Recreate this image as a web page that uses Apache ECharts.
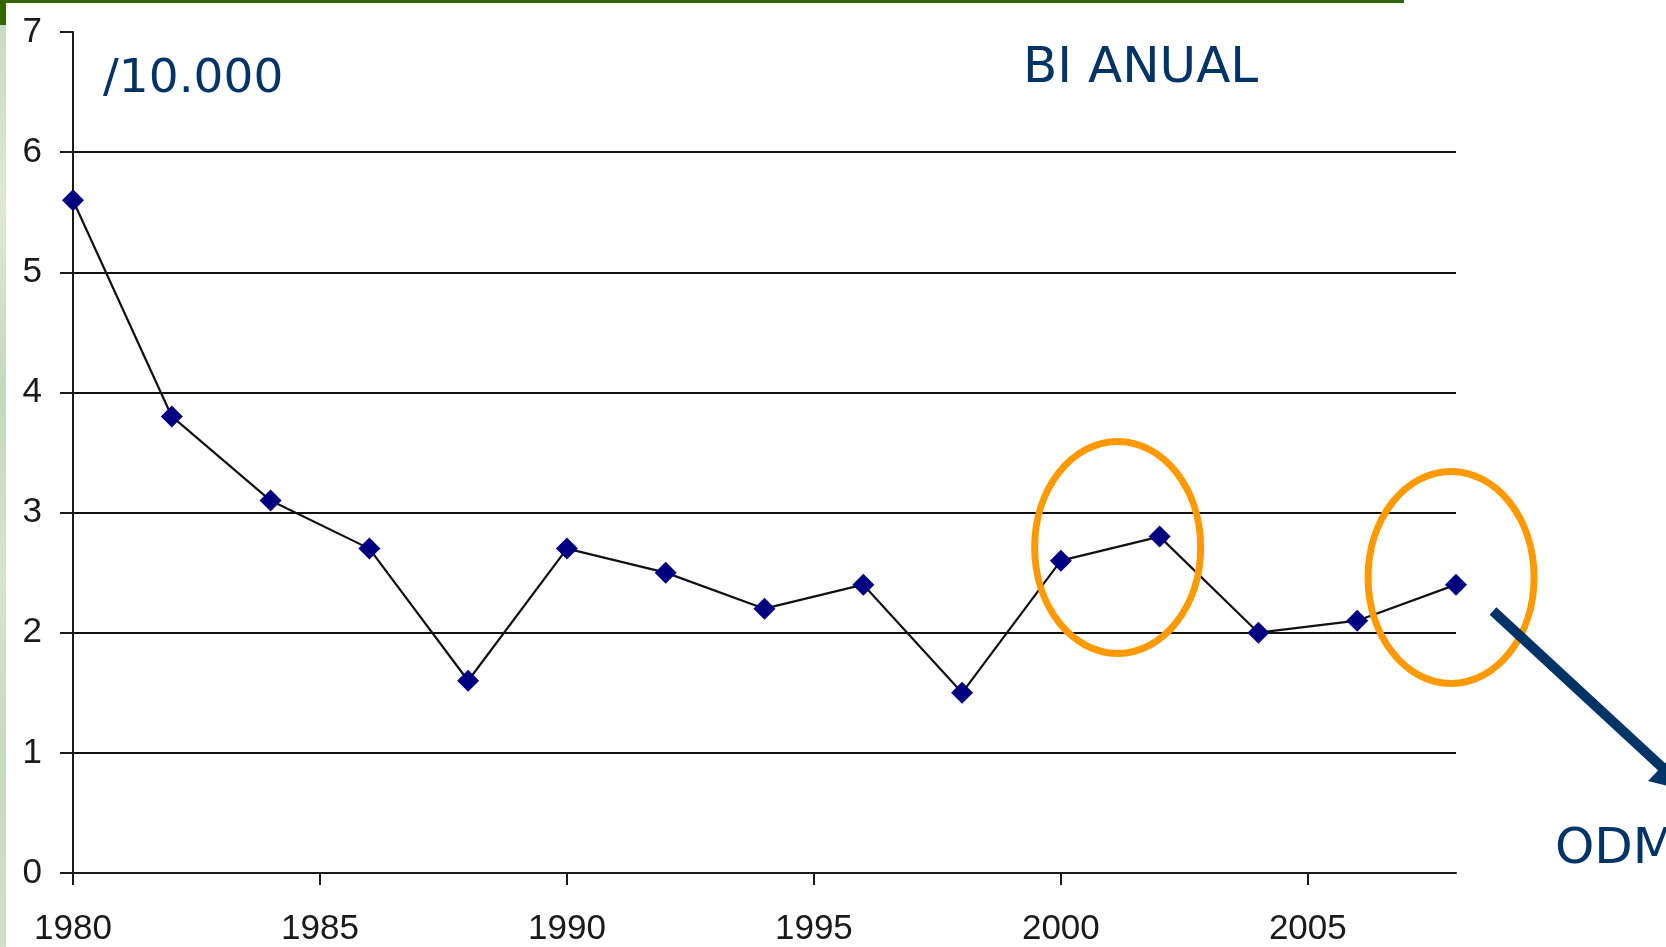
<!DOCTYPE html>
<html>
<head>
<meta charset="utf-8">
<script src="https://cdn.jsdelivr.net/npm/echarts@6/dist/echarts.min.js"></script>
<style>
html, body { margin: 0; padding: 0; background: #fff; overflow: hidden; }
#chart { width: 1666px; height: 947px; }
</style>
</head>
<body>
<div id="chart"></div>
<script>
// data (every two years)
const years = [1980, 1982, 1984, 1986, 1988, 1990, 1992, 1994, 1996, 1998, 2000, 2002, 2004, 2006, 2008];
const values = [5.6, 3.8, 3.1, 2.7, 1.6, 2.7, 2.5, 2.2, 2.4, 1.5, 2.6, 2.8, 2.0, 2.1, 2.4];
const yearTicks = [1980, 1985, 1990, 1995, 2000, 2005];
// centres of the orange rings, in data units
const circled = [[2001.15, 2.71], [2007.9, 2.46]];

const chart = echarts.init(document.getElementById('chart'));
const ink = '#1a1a1a';
const navy = '#003366';
const hand = '"DejaVu Sans", "Noto Sans", sans-serif';
const labelFont = '"Liberation Sans", Arial, sans-serif';

const option = {
    animation: false,
    backgroundColor: '#fff',
    grid: { left: 73, right: 210, top: 32, bottom: 70 },
    xAxis: {
        type: 'value',
        min: 1980,
        max: 2008,
        axisLine: { show: true, lineStyle: { color: ink, width: 2 } },
        axisTick: { show: true, length: 12, lineStyle: { color: ink, width: 2 }, customValues: yearTicks },
        axisLabel: {
            customValues: yearTicks,
            formatter: v => String(v),
            margin: 39,
            fontFamily: labelFont,
            fontSize: 35,
            color: ink
        },
        splitLine: { show: false }
    },
    yAxis: {
        type: 'value',
        min: 0,
        max: 7,
        interval: 1,
        axisLine: { show: true, lineStyle: { color: ink, width: 2 } },
        axisTick: { show: true, length: 13, lineStyle: { color: ink, width: 2 } },
        axisLabel: {
            margin: 31,
            fontFamily: labelFont,
            fontSize: 35,
            color: ink
        },
        splitLine: { show: true, showMinLine: false, showMaxLine: false, lineStyle: { color: '#111', width: 2 } }
    },
    series: [{
        type: 'line',
        data: years.map((y, i) => [y, values[i]]),
        symbol: 'diamond',
        symbolSize: 22,
        itemStyle: { color: '#000080' },
        lineStyle: { color: '#111', width: 2.2 },
        z: 3
    }]
};

chart.setOption(option);

// annotations: rings around the last points, arrow and labels
const rings = circled.map(c => {
    const p = chart.convertToPixel({ gridIndex: 0 }, c);
    return {
        type: 'ellipse',
        shape: { cx: p[0], cy: p[1], rx: 83, ry: 106 },
        style: { fill: null, stroke: '#FF9900', lineWidth: 7 },
        z: 10
    };
});

chart.setOption({
    graphic: [
        // slide frame bits
        { type: 'rect', shape: { x: 0, y: 0, width: 1404, height: 3 }, style: { fill: '#336600' }, z: 20 },
        { type: 'rect', shape: { x: 0, y: 0, width: 6, height: 25 }, style: { fill: '#336600' }, z: 20 },
        {
            type: 'rect', shape: { x: 0, y: 25, width: 6, height: 922 }, z: 20,
            style: {
                fill: new echarts.graphic.LinearGradient(0, 0, 0, 1, [
                    { offset: 0, color: '#cbd9c4' },
                    { offset: 0.2, color: '#dfe8d9' },
                    { offset: 0.4, color: '#c6d6be' },
                    { offset: 0.6, color: '#d8e3d0' },
                    { offset: 0.8, color: '#c8d7c0' },
                    { offset: 1, color: '#d3dfcb' }
                ])
            }
        },
        {
            type: 'text', left: 103, top: 56, z: 10,
            style: { text: '/10.000', font: '47px ' + hand, fill: navy }
        },
        {
            type: 'text', left: 1023, top: 44, z: 10,
            style: { text: 'BI ANUAL', font: '50px ' + hand, fill: navy }
        },
        {
            type: 'text', x: 1555, y: 825, z: 10,
            style: { text: 'ODM', font: '50px ' + hand, fill: navy }
        },
        ...rings,
        {
            type: 'line', z: 10,
            shape: { x1: 1493, y1: 611, x2: 1664, y2: 769 },
            style: { stroke: navy, lineWidth: 10 }
        },
        {
            type: 'polygon', z: 10,
            shape: { points: [[1648, 781], [1676, 752], [1688, 791]] },
            style: { fill: navy }
        }
    ]
});
</script>
</body>
</html>
